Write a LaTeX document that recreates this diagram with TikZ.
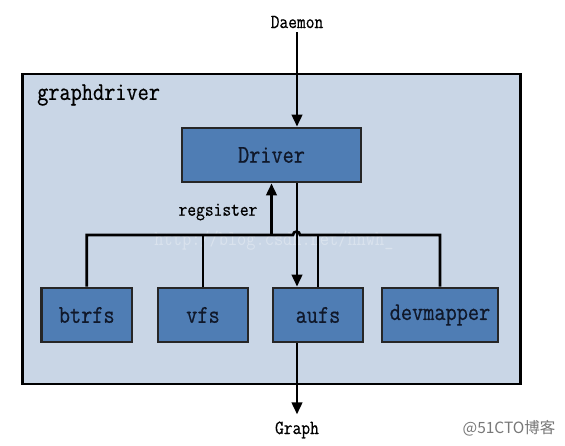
\documentclass[tikz,border=0pt]{standalone}
\usepackage{fontspec}
\setmonofont{Latin Modern Mono}[FakeStretch=0.85, FakeBold=0.6]
\newfontfamily\wmfont{Latin Modern Mono}[FakeStretch=0.85]
\newfontfamily\cjkfont{Noto Sans CJK SC}
\usetikzlibrary{arrows.meta}
\definecolor{bgfill}{RGB}{201,214,230}
\definecolor{boxfill}{RGB}{79,125,180}
\definecolor{txt}{RGB}{16,24,42}
\definecolor{wmgray}{RGB}{120,120,120}
\begin{document}
\begin{tikzpicture}[x=1pt,y=-1pt,
  outerbox/.style={draw=black, fill=bgfill, line width=2.8pt, minimum width=498pt, minimum height=310pt, inner sep=0pt},
  drvbox/.style={draw=black!85, fill=boxfill, line width=2.8pt, inner sep=0pt, minimum height=54pt, font=\ttfamily\fontsize{25.5}{28}\selectfont, text=txt},
  lbl/.style={font=\ttfamily\fontsize{20}{22}\selectfont, text=black, inner sep=0pt},
  arr/.style={-{Triangle[length=12pt,width=10.5pt]}, line width=2.6pt},
  conn/.style={line width=2.6pt}]
\useasboundingbox[fill=white] (0,0) rectangle (565,445);
\node[lbl] (daemon) at (297,22) {Daemon};
\node[outerbox] (gd) at (271.5,229) {};
\node[lbl, font=\ttfamily\fontsize{25.5}{28}\selectfont, anchor=west] (gdl) at (37,95) {graphdriver};
\node[drvbox, minimum width=179pt] (driver) at (271.5,155) {Driver};
\node[drvbox, minimum width=90.5pt] (btrfs) at (86.75,315) {btrfs};
\node[drvbox, minimum width=90pt] (vfs) at (203,315) {vfs};
\node[drvbox, minimum width=90pt] (aufs) at (318,315) {aufs};
\node[drvbox, minimum width=116pt] (devm) at (440,315) {devmapper};
\node[lbl] (graph) at (297,430) {Graph};
\node[lbl] (reg) at (218,212) {regsister};
\node[font=\wmfont\fontsize{21}{22}\selectfont, text=white, opacity=0.3, inner sep=0pt] (wm1) at (274,241) {http://blog.csdn.net/hnwh\_};
\node[font=\cjkfont\fontsize{15.5}{17}\selectfont, text=wmgray, inner sep=0pt] (wm2) at (509,428) {@51CTO博客};
\coordinate (bus) at (0,235);
\coordinate (hopL) at (293,235);
\draw[conn] (btrfs.north) |- (hopL) arc[start angle=180, end angle=0, radius=3.5pt] -- (devm.north |- bus) -- (devm.north);
\draw[conn] (vfs.north) -- (vfs.north |- bus);
\draw[conn] (aufs.north) -- (aufs.north |- bus);
\draw[arr] (driver.south |- bus) -- (driver.south);
\draw[arr, shorten <=4pt] (daemon.south) -- (daemon.south |- driver.north);
\draw[arr] (driver.south -| daemon) -- (aufs.north -| daemon);
\draw[arr, shorten >=7pt] (aufs.south -| daemon) -- (graph.north -| daemon);
\end{tikzpicture}
\end{document}
